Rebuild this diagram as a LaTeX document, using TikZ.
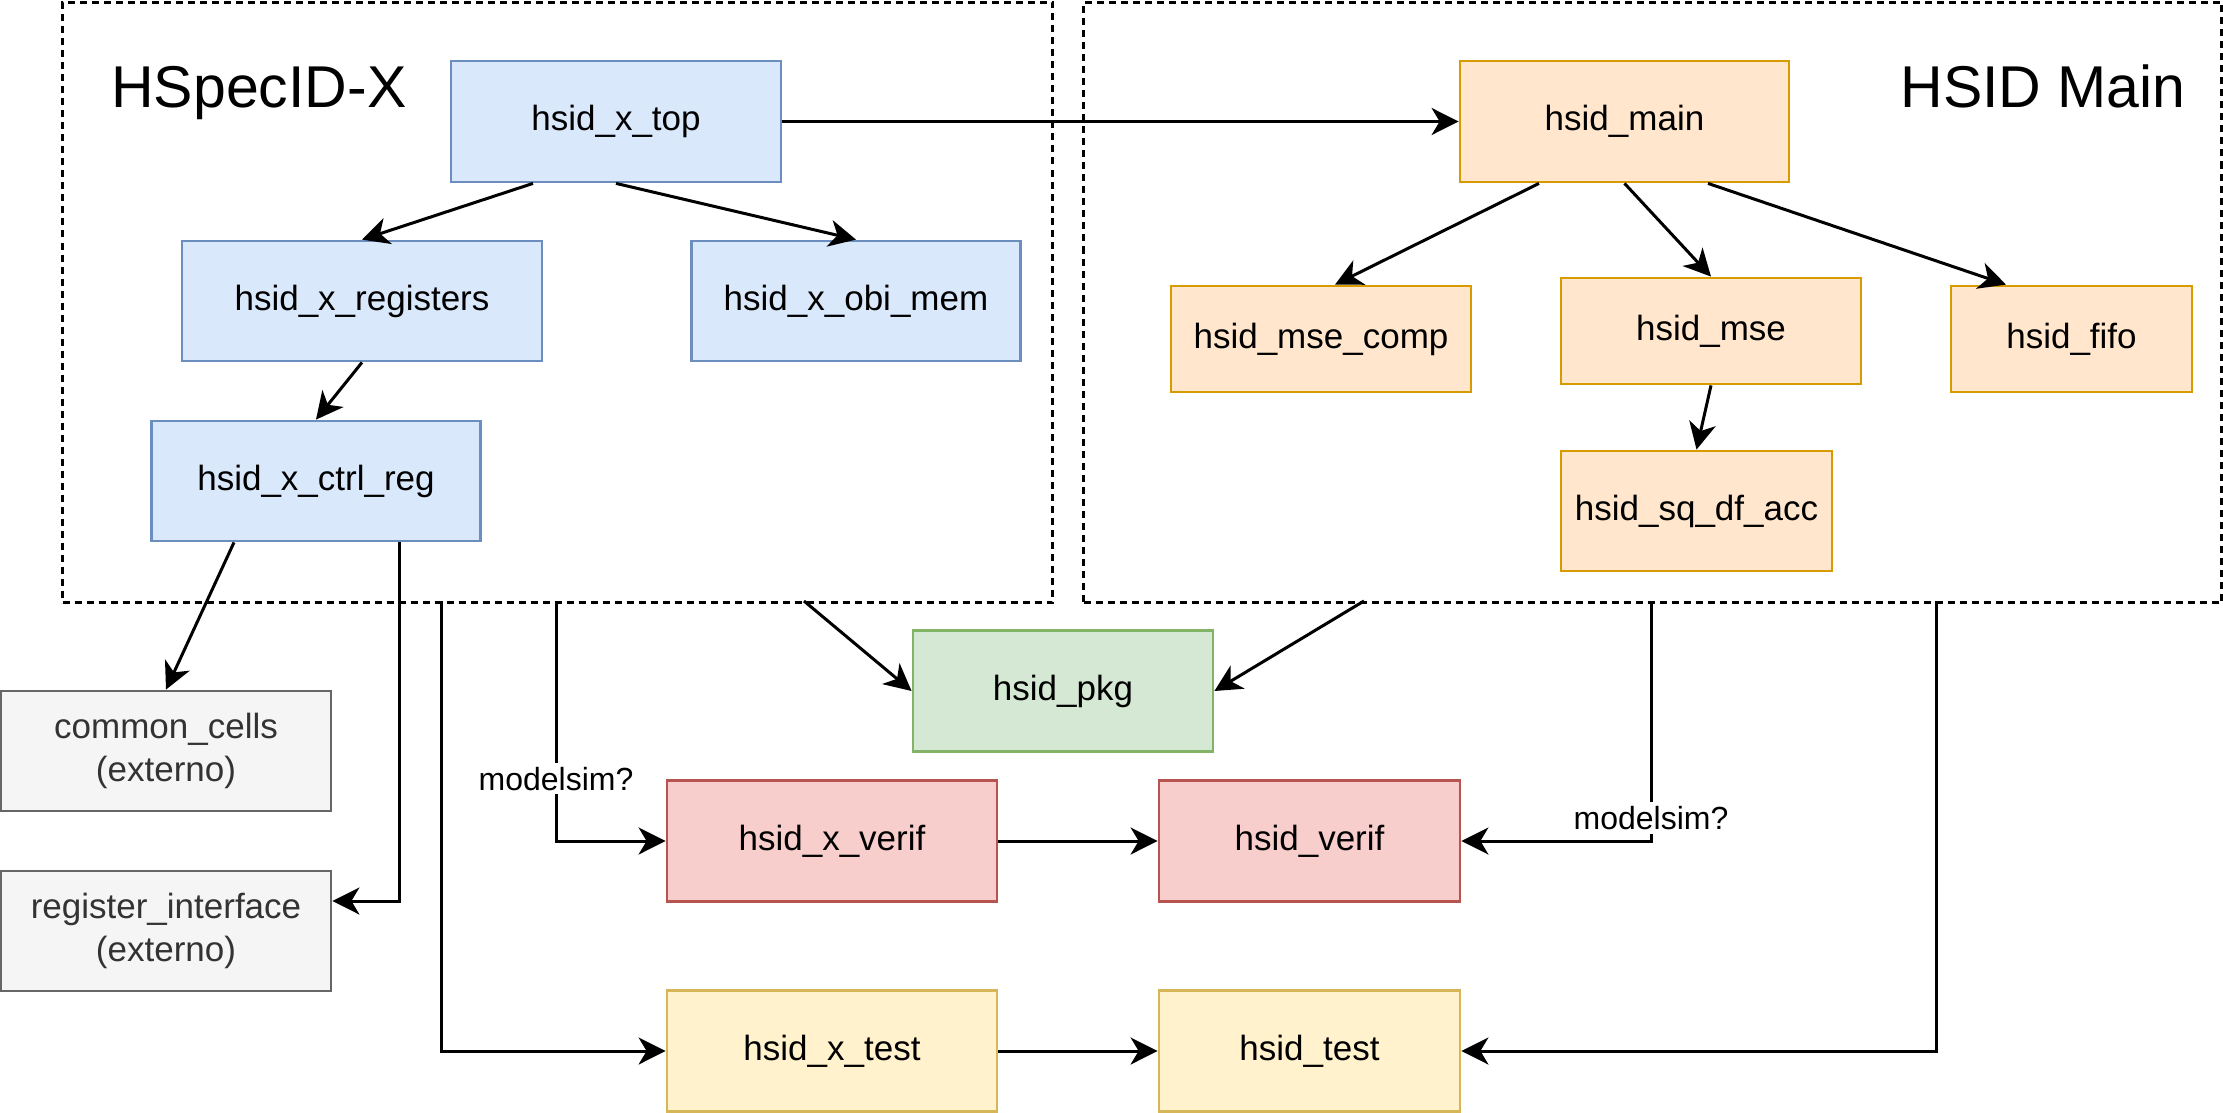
\documentclass[tikz,border=0pt]{standalone}
\usepackage{fontspec}
\setmainfont{Liberation Sans}
\usetikzlibrary{arrows.meta}

\definecolor{xfill}{HTML}{DAE8FC}  \definecolor{xline}{HTML}{6C8EBF}
\definecolor{mfill}{HTML}{FFE6CC}  \definecolor{mline}{HTML}{D79B00}
\definecolor{pfill}{HTML}{D5E8D4}  \definecolor{pline}{HTML}{82B366}
\definecolor{vfill}{HTML}{F8CECC}  \definecolor{vline}{HTML}{B85450}
\definecolor{tfill}{HTML}{FFF2CC}  \definecolor{tline}{HTML}{D6B656}
\definecolor{efill}{HTML}{F5F5F5}  \definecolor{eline}{HTML}{666666}
\definecolor{etext}{HTML}{333333}

\tikzset{
  mod/.style={draw, line width=1.4pt, minimum width=165pt, minimum height=60.5pt,
    inner sep=2pt, align=center, font=\fontsize{17.5}{21.5}\selectfont},
  xmod/.style={mod, fill=xfill, draw=xline},
  mmod/.style={mod, fill=mfill, draw=mline},
  pmod/.style={mod, fill=pfill, draw=pline},
  vmod/.style={mod, fill=vfill, draw=vline},
  tmod/.style={mod, fill=tfill, draw=tline},
  emod/.style={mod, fill=efill, draw=eline, text=etext},
  grp/.style={draw, line width=1.5pt, dash pattern=on 3.5pt off 2.5pt, inner sep=0pt,
    anchor=north west, minimum height=300pt},
  grptitle/.style={anchor=base west, inner sep=0pt, font=\fontsize{29.5}{35}\selectfont},
  dep/.style={line width=1.5pt, -{Stealth[length=13.5pt, width=13.5pt, inset=4pt]}},
  cond/.style={fill=white, inner sep=2pt, font=\fontsize{16}{19}\selectfont},
}

\begin{document}
\begin{tikzpicture}[x=0.5pt, y=-0.5pt]
  \useasboundingbox (0,0) rectangle (2223,1113);

  % groups
  \node[grp, minimum width=495pt] (grpx) at (61,1) {};
  \node[grp, minimum width=569pt] (grpm) at (1082,1) {};
  \node[grptitle] (ttlx) at (111,108) {HSpecID-X};
  \node[grptitle] (ttlm) at (1900,108) {HSID Main};

  % HSpecID-X
  \node[xmod] (xtop) at (616,121.5) {hsid\_x\_top};
  \node[xmod, minimum width=180pt, minimum height=60pt] (xregs) at (362,301) {hsid\_x\_registers};
  \node[xmod, minimum width=164.5pt, minimum height=60pt] (xobi) at (856,301) {hsid\_x\_obi\_mem};
  \node[xmod, minimum width=164.5pt, minimum height=60pt] (xctrl) at (316,481) {hsid\_x\_ctrl\_reg};

  % HSID Main
  \node[mmod, minimum width=164.5pt] (main) at (1624.5,121.5) {hsid\_main};
  \node[mmod, minimum width=150pt, minimum height=53pt] (msecomp) at (1321,339) {hsid\_mse\_comp};
  \node[mmod, minimum width=150pt, minimum height=53pt] (mse) at (1711,331) {hsid\_mse};
  \node[mmod, minimum width=120.5pt, minimum height=53pt] (fifo) at (2071.5,339) {hsid\_fifo};
  \node[mmod, minimum width=135.5pt, minimum height=60pt] (sqdf) at (1696.5,511) {hsid\_sq\_df\_acc};

  % outside
  \node[emod, minimum height=60pt] (common) at (166,751) {common\_cells\\(externo)};
  \node[emod, minimum height=60pt] (regif) at (166,931) {register\_interface\\(externo)};
  \node[pmod, minimum width=150pt] (pkg) at (1063,691) {hsid\_pkg};
  \node[vmod] (xverif) at (832,841) {hsid\_x\_verif};
  \node[vmod, minimum width=150.5pt] (verif) at (1309.5,841) {hsid\_verif};
  \node[tmod] (xtest) at (832,1051) {hsid\_x\_test};
  \node[tmod, minimum width=150.5pt] (test) at (1309.5,1051) {hsid\_test};

  % taps on the group borders
  \coordinate (tapxtest) at (441,601);
  \coordinate (tapxverif) at (556,601);
  \coordinate (tapxpkg) at (804,601);
  \coordinate (tapmpkg) at (1364,601);
  \coordinate (tapmverif) at (1651,601);
  \coordinate (tapmtest) at (1936.5,601);

  \draw[dep] (xtop.east) -- (main.west);
  \draw[dep] ([xshift=-41.5pt]xtop.south) -- (xregs.north);
  \draw[dep] (xtop.south) -- (xobi.north);
  \draw[dep] (xregs.south) -- (xctrl.north);
  \draw[dep] ([xshift=-41pt]xctrl.south) -- (common.north);
  \draw[dep] ([xshift=41.5pt]xctrl.south) |- ([yshift=15pt]regif.east);

  \draw[dep] ([xshift=-42.75pt]main.south) -- ([xshift=7pt]msecomp.north);
  \draw[dep] (main.south) -- (mse.north);
  \draw[dep] ([xshift=41.75pt]main.south) -- ([xshift=-32.75pt]fifo.north);
  \draw[dep] (mse.south) -- (sqdf.north);

  \draw[dep] (tapxpkg) -- (pkg.west);
  \draw[dep] (tapmpkg) -- (pkg.east);
  \draw[dep] (tapxverif) |- node[cond, pos=0.37] (lblx) {modelsim?} (xverif.west);
  \draw[dep] (tapxtest) |- (xtest.west);
  \draw[dep] (xverif.east) -- (verif.west);
  \draw[dep] (xtest.east) -- (test.west);
  \draw[dep] (tapmverif) |- node[cond, pos=0.452] (lblm) {modelsim?} (verif.east);
  \draw[dep] (tapmtest) |- (test.east);
\end{tikzpicture}
\end{document}
